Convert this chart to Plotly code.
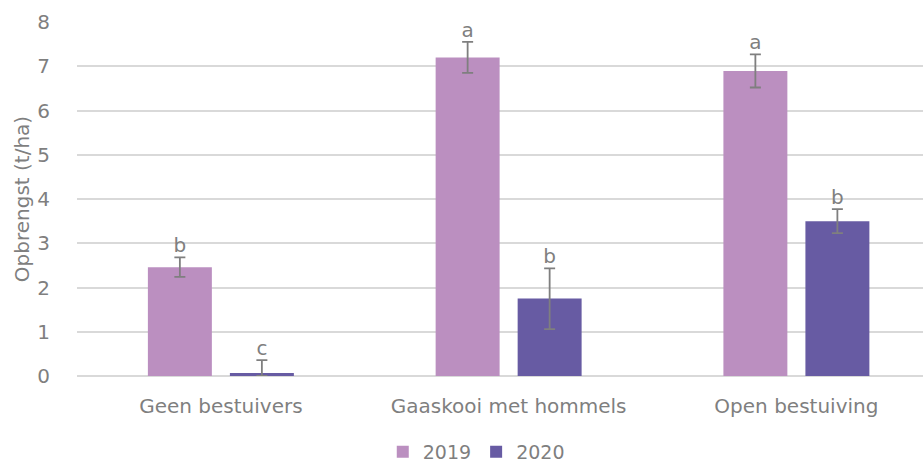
import plotly.graph_objects as go

categories = ["Geen bestuivers", "Gaaskooi met hommels", "Open bestuiving"]
series_names = ["2019", "2020"]
values_2019 = [2.46, 7.20, 6.89]
values_2020 = [0.07, 1.75, 3.50]
err_plus_2019 = [0.22, 0.35, 0.38]
err_minus_2019 = [0.22, 0.35, 0.37]
err_plus_2020 = [0.29, 0.68, 0.27]
err_minus_2020 = [0.07, 0.69, 0.27]
letters_2019 = ["b", "a", "a"]
letters_2020 = ["c", "b", "b"]
y_ticks = [0, 1, 2, 3, 4, 5, 6, 7, 8]

colors = ["#bb8fc0", "#675ba3"]
text_color = "#7f7f7f"
font_family = "DejaVu Sans"
fs = 20

fig = go.Figure()
series = [
    (series_names[0], values_2019, err_plus_2019, err_minus_2019, letters_2019, colors[0]),
    (series_names[1], values_2020, err_plus_2020, err_minus_2020, letters_2020, colors[1]),
]
for name, vals, ep, em, letters, col in series:
    fig.add_trace(go.Bar(
        x=categories, y=vals, name=name, marker=dict(color=col, line=dict(width=0)),
        offsetgroup=name,
        error_y=dict(type="data", symmetric=False, array=ep, arrayminus=em,
                     color="#7f7f7f", thickness=1.8, width=5.5),
    ))
for name, vals, ep, em, letters, col in series:
    fig.add_trace(go.Scatter(
        x=categories, y=[v + e for v, e in zip(vals, ep)], mode="text",
        text=letters, textposition="top center", offsetgroup=name,
        textfont=dict(size=fs, color=text_color, family=font_family),
        showlegend=False, hoverinfo="skip", cliponaxis=False,
    ))

fig.update_layout(
    width=923, height=466,
    margin=dict(l=77, r=0, t=22, b=90),
    paper_bgcolor="white", plot_bgcolor="white",
    barmode="group", scattermode="group",
    bargap=0.43, bargroupgap=0.22, scattergap=0.43,
    font=dict(family=font_family, size=fs, color=text_color),
    legend=dict(orientation="h", xref="container", yref="container",
                x=0.516, xanchor="center", y=0.03, yanchor="middle",
                font=dict(size=19, color=text_color), itemwidth=30,
                traceorder="normal"),
    showlegend=True,
)
fig.update_xaxes(
    range=[-0.5, 2.44], showgrid=False, showline=False, ticks="",
    ticklabelstandoff=16, tickfont=dict(size=fs, color=text_color),
)
fig.update_yaxes(
    range=[0, 8], tickvals=y_ticks, showgrid=True, gridcolor="#d9d9d9", gridwidth=1.5,
    zeroline=True, zerolinecolor="#d9d9d9", zerolinewidth=1.5,
    ticks="", ticklabelstandoff=26,
    title=dict(text="Opbrengst (t/ha)", font=dict(size=fs, color=text_color), standoff=2),
    tickfont=dict(size=fs, color=text_color),
)

fig.write_html("out.html")
